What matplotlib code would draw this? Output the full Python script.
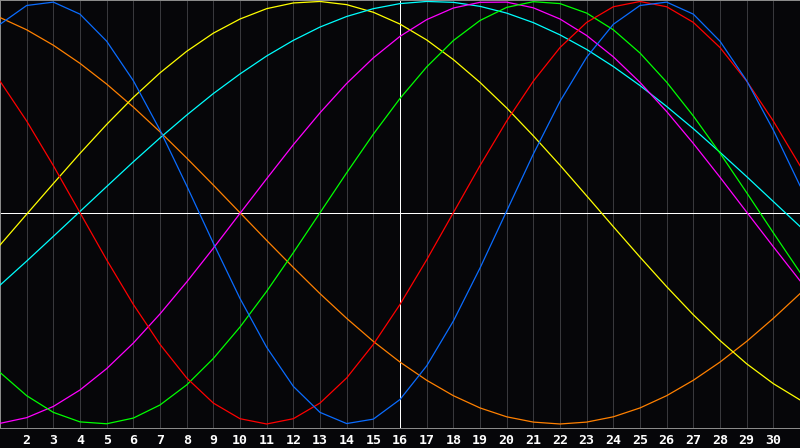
import numpy as np
import matplotlib
matplotlib.use("Agg")
import matplotlib.pyplot as plt

# days shown along the bottom
days = list(range(1, 32))
today = 16

# cycle values for each day
physical = [0.892, 0.981, 0.997, 0.940, 0.812, 0.625, 0.391, 0.128, -0.144, -0.406,
            -0.637, -0.822, -0.945, -0.998, -0.977, -0.884, -0.725, -0.513, -0.262, 0.008,
            0.278, 0.527, 0.736, 0.892, 0.981, 0.997, 0.940, 0.812, 0.625, 0.391, 0.128]
emotional = [0.623, 0.434, 0.223, 0.000, -0.223, -0.434, -0.623, -0.782, -0.901, -0.975,
             -1.000, -0.975, -0.901, -0.782, -0.623, -0.434, -0.223, 0.000, 0.223, 0.434,
             0.623, 0.782, 0.901, 0.975, 1.000, 0.975, 0.901, 0.782, 0.623, 0.434, 0.223]
intellectual = [-0.756, -0.866, -0.945, -0.990, -0.999, -0.972, -0.910, -0.815, -0.690, -0.541,
                -0.372, -0.189, 0.000, 0.189, 0.372, 0.541, 0.690, 0.815, 0.910, 0.972,
                0.999, 0.990, 0.945, 0.866, 0.756, 0.618, 0.458, 0.282, 0.095, -0.095, -0.282]
aesthetic = [-0.153, -0.007, 0.138, 0.281, 0.418, 0.546, 0.662, 0.764, 0.850, 0.917,
             0.966, 0.993, 1.000, 0.985, 0.949, 0.893, 0.818, 0.725, 0.617, 0.496,
             0.364, 0.225, 0.080, -0.066, -0.210, -0.350, -0.483, -0.605, -0.715, -0.809, -0.886]
spiritual = [-0.343, -0.229, -0.112, 0.006, 0.124, 0.241, 0.354, 0.462, 0.564, 0.657,
             0.742, 0.816, 0.879, 0.929, 0.966, 0.990, 1.000, 0.996, 0.977, 0.945,
             0.900, 0.842, 0.773, 0.692, 0.602, 0.503, 0.398, 0.286, 0.171, 0.053, -0.065]
intuitive = [-0.997, -0.970, -0.917, -0.839, -0.738, -0.617, -0.479, -0.328, -0.168, -0.003,
             0.161, 0.322, 0.473, 0.612, 0.733, 0.835, 0.914, 0.969, 0.996, 0.997,
             0.970, 0.917, 0.839, 0.738, 0.617, 0.479, 0.328, 0.168, 0.003, -0.161, -0.322]
mastery = [0.924, 0.866, 0.793, 0.707, 0.609, 0.500, 0.383, 0.259, 0.131, 0.000,
           -0.131, -0.259, -0.383, -0.500, -0.609, -0.707, -0.793, -0.866, -0.924, -0.966,
           -0.991, -1.000, -0.991, -0.966, -0.924, -0.866, -0.793, -0.707, -0.609, -0.500, -0.383]

bg = "#060609"
px = 0.72  # one pixel at 100 dpi

fig = plt.figure(figsize=(8, 4.48), dpi=100, facecolor=bg)
ax = fig.add_axes([0, 20 / 448, 1, 428 / 448])
ax.set_facecolor(bg)

# day grid
for d in days[1:-1]:
    ax.axvline(d, color="#38383c", lw=px, zorder=1, antialiased=False)

ax.axhline(0, color="white", lw=px, zorder=2, antialiased=False)
ax.axvline(today, color="white", lw=px, zorder=2, antialiased=False)

ax.plot(days, mastery, color="#ff8000", lw=0.9, zorder=3)
ax.plot(days, aesthetic, color="#ffff00", lw=0.9, zorder=3)
ax.plot(days, spiritual, color="#00ffff", lw=0.9, zorder=3)
ax.plot(days, intuitive, color="#ff00ff", lw=0.9, zorder=3)
ax.plot(days, intellectual, color="#00ff00", lw=0.9, zorder=3)
ax.plot(days, emotional, color="#ff0000", lw=0.9, zorder=3)
ax.plot(days, physical, color="#0a6cff", lw=0.9, zorder=3)

ax.set_xlim(1, 31)
ax.set_ylim(-1.019, 1.007)

ax.set_xticks(days[1:-1])
ax.set_xticklabels([str(d) for d in days[1:-1]], color="white",
                   fontfamily="DejaVu Sans Mono", fontweight="bold", fontsize=9.5)
ax.tick_params(axis="x", length=0, pad=4)
ax.set_yticks([])

for s in ["left", "top", "bottom"]:
    ax.spines[s].set_color("#8a8a8a")
    ax.spines[s].set_linewidth(px)
ax.spines["right"].set_visible(False)

fig.savefig("out.png", dpi=100, facecolor=bg)
